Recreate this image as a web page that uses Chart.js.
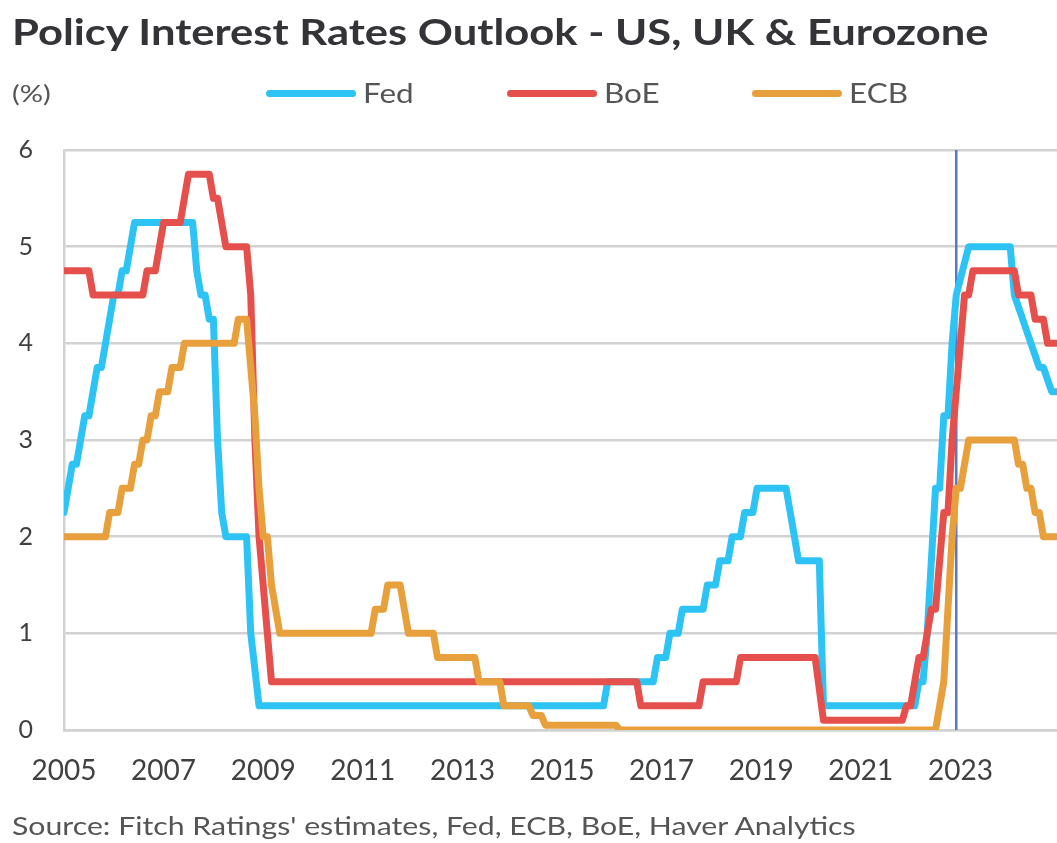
<!DOCTYPE html>
<html>
<head>
<meta charset="utf-8">
<title>Policy Interest Rates Outlook - US, UK &amp; Eurozone</title>
<script src="https://cdn.jsdelivr.net/npm/chart.js@4.4.0/dist/chart.umd.min.js"></script>
<style>
  html, body { margin: 0; padding: 0; background: #ffffff; }
  #wrap { position: relative; width: 1057px; height: 843px; overflow: hidden; font-family: Lato, "Open Sans", sans-serif; }
  #chart { position: absolute; left: 0; top: 0; }
  .wide { display: inline-block; transform: scaleX(1.21); transform-origin: 0 50%; white-space: nowrap; }
  #title { position: absolute; left: 12px; top: 9px; height: 44px; line-height: 44px; font-size: 36px; font-weight: 700; color: #333338; }
  #unit { position: absolute; left: 12px; top: 76px; height: 34px; line-height: 34px; font-size: 24px; color: #555555; }
  #legend { position: absolute; left: 0; top: 76px; width: 1057px; height: 34px; }
  .item { position: absolute; top: 0; height: 34px; display: flex; align-items: center; font-size: 26px; color: #555555; line-height: 34px; }
  .item:nth-child(1) { left: 266px; }
  .item:nth-child(2) { left: 507px; }
  .item:nth-child(3) { left: 752px; }
  .swatch { width: 90px; height: 7px; border-radius: 4px; margin-right: 7px; flex: none; }
  #source { position: absolute; left: 12px; top: 810px; height: 30px; line-height: 30px; font-size: 25px; color: #555555; }
</style>
</head>
<body>
<div id="wrap">
  <canvas id="chart" width="1060" height="843"></canvas>
  <div id="title"><span class="wide" id="titleText"></span></div>
  <div id="unit"><span class="wide">(%)</span></div>
  <div id="legend"></div>
  <div id="source"><span class="wide" id="sourceText"></span></div>
</div>
<script>
// Monthly policy rates (%), listed at each change point; values are held flat between listed months.
const seriesNames = ['Fed', 'BoE', 'ECB'];
const seriesColors = ['#2dc3f4', '#e5504c', '#e8a03c'];

const fedMonths = [
  '2005-01','2005-02','2005-03','2005-04','2005-05','2005-06','2005-07','2005-08','2005-09','2005-10',
  '2005-11','2005-12','2006-01','2006-02','2006-03','2006-04','2006-05','2006-06','2007-08','2007-09',
  '2007-10','2007-11','2007-12','2008-01','2008-02','2008-03','2008-04','2008-09','2008-10','2008-12',
  '2015-11','2015-12','2016-11','2016-12','2017-02','2017-03','2017-05','2017-06','2017-11','2017-12',
  '2018-02','2018-03','2018-05','2018-06','2018-08','2018-09','2018-11','2018-12','2019-07','2019-08',
  '2019-09','2019-10','2020-03','2020-04','2022-02','2022-03','2022-04','2022-05','2022-06','2022-07',
  '2022-08','2022-09','2022-10','2022-11','2022-12','2023-03','2024-01','2024-02','2024-04','2024-06',
  '2024-08','2024-09','2024-11','2025-01'
];
const fedRates = [
  2.25, 2.5, 2.75, 2.75, 3.0, 3.25, 3.25, 3.5, 3.75, 3.75,
  4.0, 4.25, 4.5, 4.5, 4.75, 4.75, 5.0, 5.25, 5.25, 4.75,
  4.5, 4.5, 4.25, 4.25, 3.0, 2.25, 2.0, 2.0, 1.0, 0.25,
  0.25, 0.5, 0.5, 0.75, 0.75, 1.0, 1.0, 1.25, 1.25, 1.5,
  1.5, 1.75, 1.75, 2.0, 2.0, 2.25, 2.25, 2.5, 2.5, 2.25,
  2.0, 1.75, 1.75, 0.25, 0.25, 0.5, 0.5, 1.0, 1.75, 2.5,
  2.5, 3.25, 3.25, 4.0, 4.5, 5.0, 5.0, 4.5, 4.25, 4.0,
  3.75, 3.75, 3.5, 3.5
];

const boeMonths = [
  '2005-01','2005-07','2005-08','2006-08','2006-09','2006-11','2006-12','2007-01','2007-05','2007-06',
  '2007-07','2007-12','2008-01','2008-02','2008-03','2008-04','2008-09','2008-10','2008-11','2008-12',
  '2009-01','2009-02','2009-03','2016-07','2016-08','2017-10','2017-11','2018-07','2018-08','2020-02',
  '2020-04','2021-11','2021-12','2022-01','2022-02','2022-03','2022-04','2022-05','2022-06','2022-07',
  '2022-08','2022-09','2022-10','2022-11','2022-12','2023-02','2023-03','2023-04','2024-02','2024-03',
  '2024-06','2024-07','2024-09','2024-10','2025-01'
];
const boeRates = [
  4.75, 4.75, 4.5, 4.5, 4.75, 4.75, 5.0, 5.25, 5.25, 5.5,
  5.75, 5.75, 5.5, 5.5, 5.25, 5.0, 5.0, 4.5, 3.0, 2.0,
  1.5, 1.0, 0.5, 0.5, 0.25, 0.25, 0.5, 0.5, 0.75, 0.75,
  0.1, 0.1, 0.25, 0.25, 0.5, 0.75, 0.75, 1.0, 1.25, 1.25,
  1.75, 2.25, 2.25, 3.0, 3.5, 4.5, 4.5, 4.75, 4.75, 4.5,
  4.5, 4.25, 4.25, 4.0, 4.0
];

const ecbMonths = [
  '2005-01','2005-11','2005-12','2006-02','2006-03','2006-05','2006-06','2006-07','2006-08','2006-09',
  '2006-10','2006-11','2006-12','2007-02','2007-03','2007-05','2007-06','2008-06','2008-07','2008-09',
  '2008-10','2008-11','2008-12','2009-01','2009-02','2009-03','2009-04','2009-05','2011-03','2011-04',
  '2011-06','2011-07','2011-10','2011-11','2011-12','2012-06','2012-07','2013-04','2013-05','2013-10',
  '2013-11','2014-05','2014-06','2014-08','2014-09','2016-02','2016-03','2022-07','2022-09','2022-10',
  '2022-11','2022-12','2023-01','2023-03','2024-02','2024-03','2024-04','2024-05','2024-06','2024-07',
  '2024-08','2024-09','2025-01'
];
const ecbRates = [
  2.0, 2.0, 2.25, 2.25, 2.5, 2.5, 2.75, 2.75, 3.0, 3.0,
  3.25, 3.25, 3.5, 3.5, 3.75, 3.75, 4.0, 4.0, 4.25, 4.25,
  3.75, 3.25, 2.5, 2.0, 2.0, 1.5, 1.25, 1.0, 1.0, 1.25,
  1.25, 1.5, 1.5, 1.25, 1.0, 1.0, 0.75, 0.75, 0.5, 0.5,
  0.25, 0.25, 0.15, 0.15, 0.05, 0.05, 0.0, 0.0, 0.5, 1.25,
  2.0, 2.5, 2.5, 3.0, 3.0, 2.75, 2.75, 2.5, 2.5, 2.25,
  2.25, 2.0, 2.0
];

// Axis labels and the month that separates actual data from the outlook
const tickYears = [2005, 2007, 2009, 2011, 2013, 2015, 2017, 2019, 2021, 2023];
const axisStartYear = 2005;
const axisEndYear = 2025;
const outlookStart = '2022-12';

const titleText = 'Policy Interest Rates Outlook - US, UK & Eurozone';
const sourceText = "Source: Fitch Ratings' estimates, Fed, ECB, BoE, Haver Analytics";

// "YYYY-MM" -> decimal year on the linear time scale
const toYear = (m) => {
  const [y, mo] = m.split('-').map(Number);
  return y + (mo - 1) / 12;
};
const toPoints = (months, rates) => months.map((m, i) => ({ x: toYear(m), y: rates[i] }));

const seriesData = [
  toPoints(fedMonths, fedRates),
  toPoints(boeMonths, boeRates),
  toPoints(ecbMonths, ecbRates)
];

// Later series sit on top of earlier ones
const datasets = seriesNames.map((name, i) => ({
  label: name,
  data: seriesData[i],
  borderColor: seriesColors[i],
  backgroundColor: seriesColors[i],
  borderWidth: 7,
  borderJoinStyle: 'round',
  borderCapStyle: 'round',
  pointRadius: 0,
  tension: 0,
  fill: false,
  order: seriesNames.length - 1 - i
}));

// Vertical marker at the start of the outlook period
const outlookMarker = {
  id: 'outlookMarker',
  beforeDatasetsDraw(chart) {
    const { ctx, chartArea, scales } = chart;
    const px = scales.x.getPixelForValue(toYear(outlookStart));
    ctx.save();
    ctx.strokeStyle = '#5b77c6';
    ctx.lineWidth = 2.5;
    ctx.beginPath();
    ctx.moveTo(px, chartArea.top);
    ctx.lineTo(px, chartArea.bottom);
    ctx.stroke();
    ctx.restore();
  }
};

// Heading, source note and legend
document.getElementById('titleText').textContent = titleText;
document.getElementById('sourceText').textContent = sourceText;

const legendEl = document.getElementById('legend');
seriesNames.forEach((name, i) => {
  const item = document.createElement('div');
  item.className = 'item';
  const sw = document.createElement('span');
  sw.className = 'swatch';
  sw.style.background = seriesColors[i];
  const label = document.createElement('span');
  label.className = 'wide';
  label.textContent = name;
  item.appendChild(sw);
  item.appendChild(label);
  legendEl.appendChild(item);
});

const gridColor = '#d2d2d2';

new Chart(document.getElementById('chart'), {
  type: 'line',
  data: { datasets },
  plugins: [outlookMarker],
  options: {
    responsive: false,
    animation: false,
    devicePixelRatio: 1,
    layout: { padding: { left: 12, right: 0, top: 150, bottom: 32 } },
    plugins: {
      legend: { display: false },
      tooltip: { enabled: false },
      title: { display: false },
      subtitle: { display: false }
    },
    scales: {
      x: {
        type: 'linear',
        min: axisStartYear,
        max: axisEndYear,
        afterBuildTicks: (scale) => { scale.ticks = tickYears.map((v) => ({ value: v })); },
        afterFit: (scale) => { scale.height = 81; },
        grid: { display: false, drawTicks: false },
        border: { display: true, color: gridColor, width: 2.5 },
        ticks: {
          padding: 24,
          autoSkip: false,
          maxRotation: 0,
          color: '#404040',
          font: { family: 'Lato', size: 28 },
          callback: (v) => String(v)
        }
      },
      y: {
        min: 0,
        max: 6,
        afterFit: (scale) => { scale.width = 52; },
        grid: { color: gridColor, lineWidth: 2.5, drawTicks: false },
        border: { display: true, color: gridColor, width: 2.5 },
        ticks: {
          stepSize: 1,
          padding: 31,
          color: '#404040',
          font: { family: 'Lato', size: 25 }
        }
      }
    }
  }
});
</script>
</body>
</html>
